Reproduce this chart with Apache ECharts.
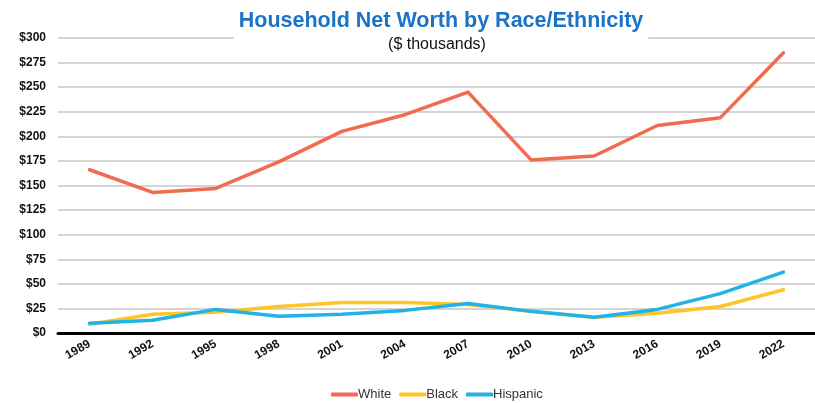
<!DOCTYPE html>
<html>
<head>
<meta charset="utf-8">
<script src="https://cdn.jsdelivr.net/npm/echarts@6/dist/echarts.min.js"></script>
<style>
  html, body { margin: 0; padding: 0; background: #fff; }
  #chart { width: 815px; height: 403px; }
</style>
</head>
<body>
<div id="chart"></div>
<script>
// Survey years (x axis)
const years = ['1989', '1992', '1995', '1998', '2001', '2004', '2007', '2010', '2013', '2016', '2019', '2022'];
// Median household net worth, $ thousands
const white    = [166, 143, 147, 174, 205, 222, 245, 176, 180, 211, 219, 285];
const black    = [9, 19, 21, 27, 31, 31, 29, 22, 16, 20, 27, 44];
const hispanic = [10, 13, 24, 17, 19, 23, 30, 22, 16, 24, 40, 62];
// Y tick values drawn as $ labels
const yTicks = [0, 25, 50, 75, 100, 125, 150, 175, 200, 225, 250, 275, 300];

const FONT = '"Liberation Sans", Arial, sans-serif';
const chart = echarts.init(document.getElementById('chart'), null, { renderer: 'canvas' });

const lineSeries = (name, data, color) => ({
  name, type: 'line', data, symbol: 'none',
  lineStyle: { color, width: 3.5, cap: 'round', join: 'round' },
  itemStyle: { color },
  z: 3
});

chart.setOption({
  backgroundColor: '#ffffff',
  animation: false,
  title: [
    {
      text: 'Household Net Worth by Race/Ethnicity',
      left: 436, top: 7, textAlign: 'center',
      backgroundColor: '#ffffff',
      padding: [3, 5, 10, 5],
      textStyle: { color: '#1a73c6', fontFamily: FONT, fontWeight: 'bold', fontSize: 21.5 },
      z: 10
    },
    {
      text: '($ thousands)',
      left: 437, top: 37, textAlign: 'center',
      padding: 0,
      textStyle: { color: '#111', fontFamily: FONT, fontWeight: 'normal', fontSize: 16 },
      z: 11
    }
  ],
  legend: {
    bottom: -3, left: 326,
    itemWidth: 27, itemHeight: 4, itemGap: 8,
    icon: 'roundRect',
    data: ['White', 'Black', 'Hispanic'],
    textStyle: { color: '#333', fontFamily: FONT, fontSize: 13, padding: [0, 0, 0, -5] }
  },
  grid: { left: 58, top: 38, width: 770, height: 295, containLabel: false },
  xAxis: {
    type: 'category', data: years, boundaryGap: true,
    axisLine: { show: true, lineStyle: { color: '#000', width: 3 } },
    axisTick: { show: false },
    axisLabel: {
      rotate: 30, margin: 10, color: '#111',
      fontFamily: FONT, fontWeight: 'bold', fontSize: 12
    }
  },
  yAxis: {
    type: 'value', min: yTicks[0], max: yTicks[yTicks.length - 1], interval: 25,
    axisLine: { show: false }, axisTick: { show: false },
    axisLabel: {
      formatter: v => '$' + v, margin: 12, color: '#111',
      fontFamily: FONT, fontWeight: 'bold', fontSize: 12
    },
    splitLine: { lineStyle: { color: '#d4d4d4', width: 2 } }
  },
  series: [
    lineSeries('White', white, '#f26a4f'),
    lineSeries('Black', black, '#fdc525'),
    lineSeries('Hispanic', hispanic, '#1fb3e8')
  ]
});
</script>
</body>
</html>
